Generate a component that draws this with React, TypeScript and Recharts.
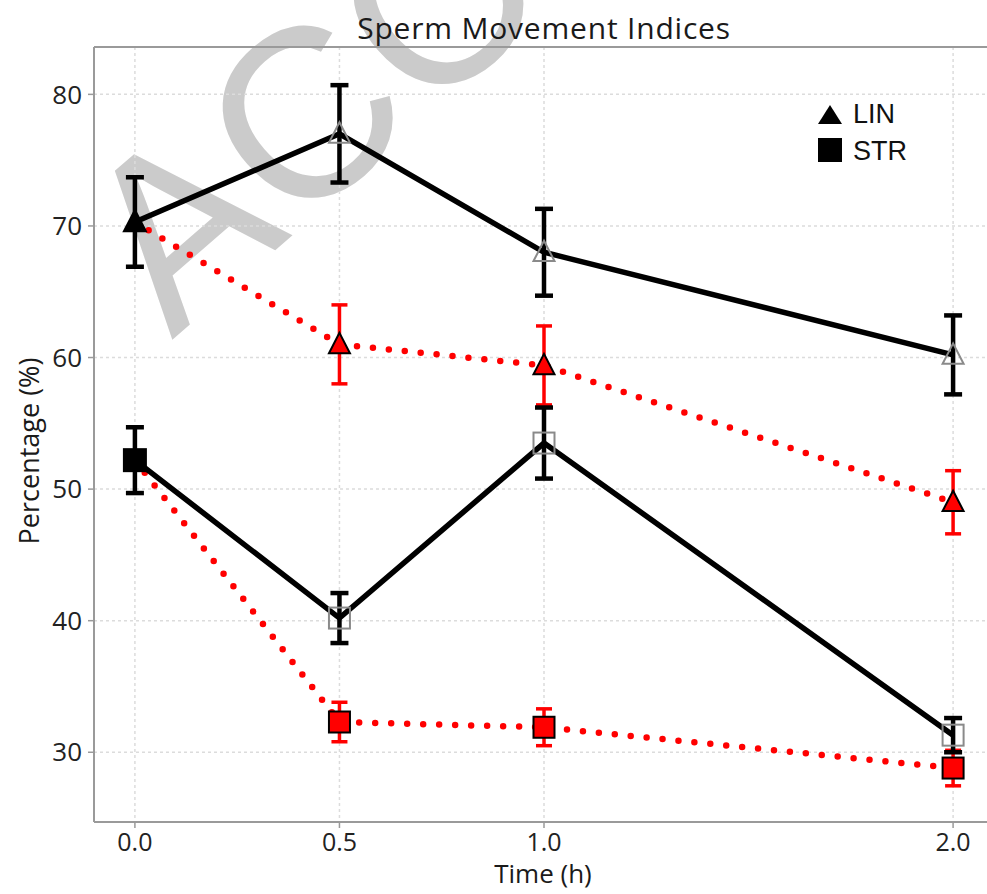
import React from 'react';
import { LineChart, Line, XAxis, YAxis, CartesianGrid, ErrorBar, ReferenceLine } from 'recharts';

// values (mean and +/- error)
const times = [0, 0.5, 1.0, 2.0];
const linBlack = [70.3, 77.0, 68.0, 60.2];
const linBlackErr = [3.4, 3.7, 3.3, 3.0];
const linRed = [70.3, 61.0, 59.4, 49.0];
const linRedErr = [0, 3.0, 3.0, 2.4];
const strBlack = [52.2, 40.2, 53.5, 31.3];
const strBlackErr = [2.5, 1.9, 2.7, 1.3];
const strRed = [52.2, 32.3, 31.9, 28.8];
const strRedErr = [0, 1.5, 1.4, 1.35];

const xTicks = [0, 0.5, 1.0, 2.0];
const yTicks = [30, 40, 50, 60, 70, 80];
const xDomain = [-0.1, 2.1];
const yDomain = [24.7, 83.6];
const legendItems = ['LIN', 'STR'];

const data = times.map((t, i) => ({
  time: t,
  linBlack: linBlack[i],
  linBlackErr: linBlackErr[i],
  linRed: linRed[i],
  linRedErr: linRedErr[i],
  strBlack: strBlack[i],
  strBlackErr: strBlackErr[i],
  strRed: strRed[i],
  strRedErr: strRedErr[i],
}));

const font = '"Open Sans", sans-serif';

// ggplot-ish markers: red = filled red w/ black edge, black = hollow grey, except the shared 0 h point
const makeDot = (shape: 'tri' | 'sq', kind: 'black' | 'red') => (props: any) => {
  const { cx, cy, index } = props;
  const key = `${shape}-${kind}-${index}`;
  if (cx == null || cy == null) return <g key={key} />;
  if (kind === 'red' && index === 0) return <g key={key} />;
  const solid = kind === 'black' && index === 0;
  const fill = kind === 'red' ? '#ff0000' : solid ? '#000' : 'none';
  const stroke = kind === 'red' ? '#000' : solid ? '#000' : '#8a8a8a';
  const s = solid ? 22 : 21;
  if (shape === 'sq') {
    return <rect key={key} x={cx - s / 2} y={cy - s / 2} width={s} height={s} fill={fill} stroke={stroke} strokeWidth={2} />;
  }
  const pts = `${cx},${cy - s * 0.55} ${cx - s / 2},${cy + s * 0.42} ${cx + s / 2},${cy + s * 0.42}`;
  return <polygon key={key} points={pts} fill={fill} stroke={stroke} strokeWidth={2} strokeLinejoin="miter" />;
};

export default function App() {
  return (
    <div style={{ position: 'absolute', left: 0, top: 0, width: 987, height: 894, overflow: 'hidden', background: '#fff' }}>
      {/* watermark sits behind the plot */}
      <svg width={987} height={894} style={{ position: 'absolute', left: 0, top: 0 }}>
        <text
          transform="translate(172,340) rotate(-41)"
          fontFamily='"Liberation Sans", Arial, sans-serif'
          fontSize={240}
          fill="#cbcbcb"
        >
          ACCEPTED
        </text>
      </svg>

      <div style={{ position: 'absolute', left: 0, top: 0 }}>
        <LineChart width={1000} height={894} data={data} margin={{ top: 47, right: 6, left: 0, bottom: 0 }}>
          <CartesianGrid stroke="#dcdcdc" strokeDasharray="3 3" strokeWidth={1.5} />
          <XAxis
            type="number"
            dataKey="time"
            domain={xDomain}
            ticks={xTicks}
            allowDataOverflow
            tickFormatter={(v: number) => v.toFixed(1)}
            height={72}
            axisLine={{ stroke: '#9a9a9a', strokeWidth: 2 }}
            tickLine={{ stroke: '#9a9a9a', strokeWidth: 1.5 }}
            tickSize={6}
            tickMargin={5}
            tick={{ fontSize: 25, fill: '#222', fontFamily: font }}
          />
          <YAxis
            type="number"
            domain={yDomain}
            ticks={yTicks}
            allowDataOverflow
            width={94}
            axisLine={{ stroke: '#9a9a9a', strokeWidth: 2 }}
            tickLine={{ stroke: '#9a9a9a', strokeWidth: 1.5 }}
            tickSize={6}
            tickMargin={6}
            tick={{ fontSize: 26, fill: '#222', fontFamily: font }}
          />
          <ReferenceLine y={yDomain[1]} stroke="#9a9a9a" strokeWidth={2} />

          <Line
            dataKey="linRed"
            stroke="#ff0000"
            strokeWidth={6.5}
            strokeDasharray="0 16"
            strokeLinecap="round"
            dot={makeDot('tri', 'red')}
            isAnimationActive={false}
          >
            <ErrorBar dataKey="linRedErr" direction="y" width={8} strokeWidth={3.5} stroke="#ff0000" isAnimationActive={false} />
          </Line>
          <Line
            dataKey="strRed"
            stroke="#ff0000"
            strokeWidth={6.5}
            strokeDasharray="0 16"
            strokeLinecap="round"
            dot={makeDot('sq', 'red')}
            isAnimationActive={false}
          >
            <ErrorBar dataKey="strRedErr" direction="y" width={8} strokeWidth={3.5} stroke="#ff0000" isAnimationActive={false} />
          </Line>
          <Line
            dataKey="linBlack"
            stroke="#000"
            strokeWidth={5.5}
            dot={makeDot('tri', 'black')}
            isAnimationActive={false}
          >
            <ErrorBar dataKey="linBlackErr" direction="y" width={9} strokeWidth={4.5} stroke="#000" isAnimationActive={false} />
          </Line>
          <Line
            dataKey="strBlack"
            stroke="#000"
            strokeWidth={5.5}
            dot={makeDot('sq', 'black')}
            isAnimationActive={false}
          >
            <ErrorBar dataKey="strBlackErr" direction="y" width={9} strokeWidth={4.5} stroke="#000" isAnimationActive={false} />
          </Line>
        </LineChart>
      </div>

      {/* titles and legend */}
      <svg width={987} height={894} style={{ position: 'absolute', left: 0, top: 0, pointerEvents: 'none' }}>
        <text x={544} y={39} textAnchor="middle" fontFamily={font} fontSize={30} letterSpacing={0.8} fill="#1a1a1a">
          Sperm Movement Indices
        </text>
        <text x={543} y={883} textAnchor="middle" fontFamily={font} fontSize={26} fill="#1a1a1a">
          Time (h)
        </text>
        <text transform="translate(39,451) rotate(-90)" textAnchor="middle" fontFamily={font} fontSize={27} fill="#1a1a1a">
          Percentage (%)
        </text>
        <polygon points="830,105 818,124 842,124" fill="#000" />
        <text x={853} y={123} fontFamily='"Liberation Sans", Arial, sans-serif' fontSize={27} fill="#111">
          {legendItems[0]}
        </text>
        <rect x={818} y={138} width={24} height={24} fill="#000" />
        <text x={853} y={160} fontFamily='"Liberation Sans", Arial, sans-serif' fontSize={27} fill="#111">
          {legendItems[1]}
        </text>
      </svg>
    </div>
  );
}
